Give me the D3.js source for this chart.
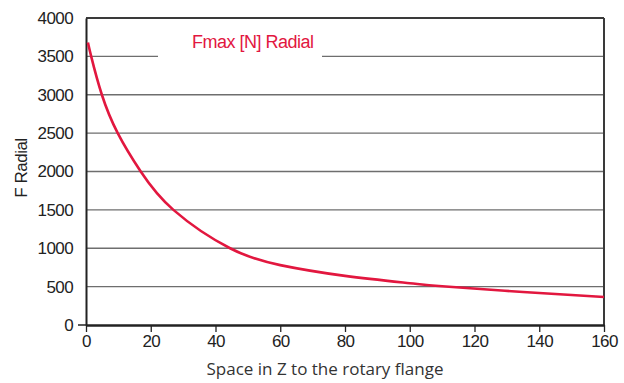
<!DOCTYPE html>
<html>
<head>
<meta charset="utf-8">
<script src="https://cdn.jsdelivr.net/npm/d3@7"></script>
<style>
  body { margin: 0; background: #fff; }
  svg text { font-family: "Liberation Sans", Arial, sans-serif; }
</style>
</head>
<body>
<svg id="chart" width="624" height="383"></svg>
<script>
// curve (mostly where it crosses the grid lines)
var spaceZ = [0.6, 1.6, 4.9, 9.8, 16.9, 27, 44.5, 60, 80, 100, 110, 135, 160];
var fRadial = [3680, 3500, 3000, 2500, 2000, 1500, 1000, 780, 640, 545, 505, 430, 365];

var yTicks = [0, 500, 1000, 1500, 2000, 2500, 3000, 3500, 4000],
    xTicks = [0, 20, 40, 60, 80, 100, 120, 140, 160];

var svg = d3.select("#chart"),
    margin = {top: 18, right: 20, bottom: 58, left: 86},
    width = 604 - margin.left,
    height = 325 - margin.top;

var x = d3.scaleLinear().domain([0, 160]).range([0, width]),
    y = d3.scaleLinear().domain([0, 4000]).range([height, 0]);

var g = svg.append("g")
    .attr("transform", "translate(" + margin.left + "," + margin.top + ")");

// grid lines
g.selectAll(".grid")
    .data(yTicks.filter(function(d) { return d > 0 && d < 4000; }))
  .enter().append("line")
    .attr("x1", 0)
    .attr("x2", width)
    .attr("y1", function(d) { return y(d); })
    .attr("y2", function(d) { return y(d); })
    .attr("stroke", "#6e6e6e")
    .attr("stroke-width", 1.3);

// frame top and right
g.append("line").attr("x1", 0).attr("x2", width).attr("y1", 0).attr("y2", 0)
    .attr("stroke", "#3a3a3a").attr("stroke-width", 2);
g.append("line").attr("x1", width).attr("x2", width).attr("y1", 0).attr("y2", height)
    .attr("stroke", "#3a3a3a").attr("stroke-width", 2);

// legend box over the 3500 line
g.append("rect")
    .attr("x", 72).attr("y", y(3500) - 28)
    .attr("width", 164).attr("height", 36)
    .attr("fill", "#fff");
g.append("text")
    .attr("x", 106).attr("y", 30)
    .attr("fill", "#e2173f")
    .style("font-size", "18px")
    .style("letter-spacing", "-0.5px")
    .text("Fmax [N] Radial");

// y axis
var yAxis = g.append("g")
    .call(d3.axisLeft(y).tickValues(yTicks).tickFormat(d3.format("d")).tickSize(0).tickPadding(13));
yAxis.select(".domain").attr("stroke", "#222").attr("stroke-width", 2);
yAxis.selectAll("text")
    .attr("fill", "#222")
    .style("font-size", "17px")
    .style("letter-spacing", "-0.6px")
    .style("font-family", "Liberation Sans, Arial, sans-serif");

// x axis
var xAxis = g.append("g")
    .attr("transform", "translate(0," + height + ")")
    .call(d3.axisBottom(x).tickValues(xTicks).tickFormat(d3.format("d")).tickSize(7).tickSizeOuter(0).tickPadding(3));
xAxis.select(".domain").attr("stroke", "#222").attr("stroke-width", 2.5);
xAxis.selectAll(".tick line").attr("stroke", "#222").attr("stroke-width", 1.3);
xAxis.selectAll("text")
    .attr("fill", "#222")
    .style("font-size", "17px")
    .style("letter-spacing", "-0.6px")
    .style("font-family", "Liberation Sans, Arial, sans-serif");

// small tick left of 0
g.append("line").attr("x1", -8).attr("x2", 0).attr("y1", height).attr("y2", height)
    .attr("stroke", "#222").attr("stroke-width", 1.5);

// curve
var line = d3.line()
    .x(function(d, i) { return x(spaceZ[i]); })
    .y(function(d) { return y(d); })
    .curve(d3.curveNatural);

g.append("path")
    .datum(fRadial)
    .attr("fill", "none")
    .attr("stroke", "#e2173f")
    .attr("stroke-width", 2.6)
    .attr("d", line);

// axis titles
svg.append("text")
    .attr("x", 325).attr("y", 375)
    .attr("text-anchor", "middle")
    .attr("fill", "#333")
    .style("font-family", "Open Sans, sans-serif")
    .style("font-size", "17px")
    .text("Space in Z to the rotary flange");

svg.append("text")
    .attr("transform", "translate(27,168) rotate(-90)")
    .attr("text-anchor", "middle")
    .attr("fill", "#222")
    .style("font-size", "17px")
    .style("letter-spacing", "-0.5px")
    .text("F Radial");
</script>
</body>
</html>
